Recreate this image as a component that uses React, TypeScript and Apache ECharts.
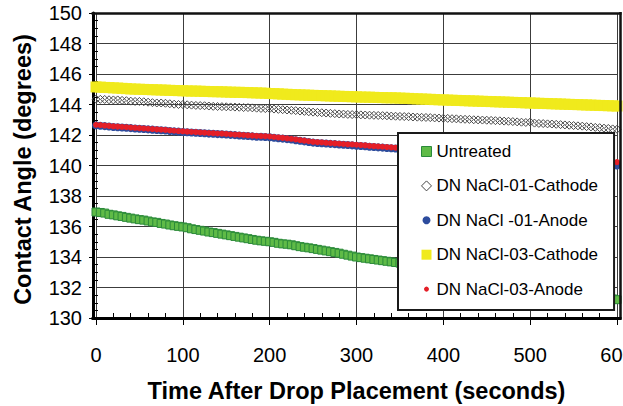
import { useEffect, useRef } from "react";
import * as echarts from "echarts";

// Time after drop placement (seconds)
const TIME = [
  0, 5, 10, 15, 20, 25, 30, 35, 40, 45, 50, 55, 60, 65, 70, 75, 80, 85, 90, 95,
  100, 105, 110, 115, 120, 125, 130, 135, 140, 145, 150, 155, 160, 165, 170, 175, 180, 185, 190, 195,
  200, 205, 210, 215, 220, 225, 230, 235, 240, 245, 250, 255, 260, 265, 270, 275, 280, 285, 290, 295,
  300, 305, 310, 315, 320, 325, 330, 335, 340, 345, 350, 355, 360, 365, 370, 375, 380, 385, 390, 395,
  400, 405, 410, 415, 420, 425, 430, 435, 440, 445, 450, 455, 460, 465, 470, 475, 480, 485, 490, 495,
  500, 505, 510, 515, 520, 525, 530, 535, 540, 545, 550, 555, 560, 565, 570, 575, 580, 585, 590, 595,
  600,
];

const UNTREATED = [
  136.95, 136.92, 136.88, 136.8, 136.76, 136.7, 136.66, 136.6, 136.55, 136.5,
  136.45, 136.42, 136.36, 136.3, 136.27, 136.2, 136.16, 136.1, 136.05, 136.01,
  135.97, 135.92, 135.85, 135.8, 135.75, 135.7, 135.64, 135.6, 135.55, 135.5,
  135.45, 135.4, 135.35, 135.3, 135.25, 135.2, 135.15, 135.1, 135.06, 135.03,
  135.0, 134.96, 134.9, 134.86, 134.84, 134.8, 134.74, 134.68, 134.64, 134.6,
  134.55, 134.5, 134.45, 134.4, 134.35, 134.3, 134.25, 134.18, 134.12, 134.06,
  134.0, 133.96, 133.92, 133.88, 133.84, 133.8, 133.76, 133.72, 133.68, 133.64,
  133.6, 133.55, 133.5, 133.45, 133.4, 133.35, 133.3, 133.25, 133.2, 133.15,
  133.1, 133.05, 133.0, 132.95, 132.9, 132.85, 132.8, 132.75, 132.7, 132.65,
  132.6, 132.55, 132.5, 132.45, 132.4, 132.35, 132.3, 132.25, 132.2, 132.15,
  132.1, 132.06, 132.02, 131.98, 131.94, 131.9, 131.86, 131.82, 131.78, 131.74,
  131.7, 131.65, 131.6, 131.55, 131.5, 131.45, 131.4, 131.35, 131.3, 131.25,
  131.2,
];

const NACL01_CATHODE = [
  144.35, 144.34, 144.33, 144.31, 144.3, 144.3, 144.27, 144.25, 144.22, 144.2,
  144.2, 144.18, 144.15, 144.12, 144.1, 144.1, 144.08, 144.05, 144.02, 144.0,
  144.0, 143.98, 143.96, 143.94, 143.93, 143.92, 143.9, 143.88, 143.87, 143.86,
  143.85, 143.84, 143.83, 143.82, 143.8, 143.8, 143.78, 143.76, 143.74, 143.73,
  143.72, 143.7, 143.68, 143.66, 143.64, 143.62, 143.6, 143.57, 143.55, 143.52,
  143.5, 143.48, 143.46, 143.44, 143.42, 143.4, 143.38, 143.37, 143.35, 143.34,
  143.33, 143.32, 143.31, 143.3, 143.29, 143.28, 143.27, 143.26, 143.24, 143.23,
  143.22, 143.21, 143.2, 143.18, 143.17, 143.16, 143.15, 143.14, 143.12, 143.11,
  143.1, 143.09, 143.07, 143.06, 143.04, 143.03, 143.02, 143.0, 142.99, 142.98,
  142.97, 142.96, 142.94, 142.93, 142.91, 142.9, 142.88, 142.86, 142.84, 142.82,
  142.85, 142.78, 142.76, 142.75, 142.73, 142.72, 142.7, 142.68, 142.66, 142.64,
  142.62, 142.6, 142.58, 142.55, 142.53, 142.5, 142.48, 142.45, 142.43, 142.4,
  142.38,
];

const NACL01_ANODE = [
  142.63, 142.61, 142.58, 142.56, 142.53, 142.51, 142.49, 142.47, 142.45, 142.43,
  142.41, 142.39, 142.37, 142.35, 142.33, 142.31, 142.29, 142.26, 142.24, 142.22,
  142.2, 142.18, 142.16, 142.15, 142.13, 142.11, 142.09, 142.08, 142.06, 142.05,
  142.03, 142.01, 141.99, 141.97, 141.95, 141.93, 141.91, 141.89, 141.88, 141.87,
  141.85, 141.82, 141.79, 141.76, 141.73, 141.7, 141.66, 141.62, 141.58, 141.54,
  141.5, 141.48, 141.46, 141.44, 141.42, 141.4, 141.38, 141.36, 141.34, 141.32,
  141.3, 141.28, 141.26, 141.23, 141.21, 141.19, 141.17, 141.15, 141.13, 141.11,
  141.09, 141.07, 141.05, 141.02, 141.0, 140.98, 140.96, 140.94, 140.92, 140.9,
  140.88, 140.86, 140.84, 140.82, 140.8, 140.78, 140.76, 140.74, 140.72, 140.7,
  140.68, 140.66, 140.64, 140.62, 140.6, 140.58, 140.56, 140.54, 140.52, 140.5,
  140.48, 140.46, 140.44, 140.42, 140.4, 140.38, 140.36, 140.34, 140.32, 140.3,
  140.28, 140.26, 140.24, 140.22, 140.2, 140.18, 140.15, 140.12, 140.09, 140.05,
  140.0,
];

const NACL03_CATHODE = [
  145.15, 145.14, 145.12, 145.11, 145.09, 145.08, 145.06, 145.04, 145.02, 145.01,
  145.0, 144.99, 144.98, 144.97, 144.96, 144.95, 144.94, 144.93, 144.92, 144.91,
  144.9, 144.89, 144.88, 144.88, 144.87, 144.86, 144.85, 144.84, 144.84, 144.83,
  144.82, 144.81, 144.8, 144.8, 144.79, 144.78, 144.77, 144.76, 144.75, 144.74,
  144.72, 144.71, 144.7, 144.68, 144.67, 144.65, 144.64, 144.63, 144.62, 144.61,
  144.6, 144.59, 144.58, 144.57, 144.56, 144.55, 144.54, 144.53, 144.52, 144.51,
  144.5, 144.49, 144.48, 144.48, 144.47, 144.46, 144.45, 144.44, 144.44, 144.43,
  144.42, 144.41, 144.4, 144.38, 144.37, 144.36, 144.35, 144.34, 144.32, 144.31,
  144.3, 144.29, 144.28, 144.27, 144.26, 144.25, 144.24, 144.23, 144.22, 144.21,
  144.2, 144.19, 144.18, 144.17, 144.16, 144.15, 144.14, 144.13, 144.12, 144.11,
  144.1, 144.09, 144.08, 144.07, 144.06, 144.05, 144.04, 144.03, 144.02, 144.01,
  144.0, 143.99, 143.98, 143.97, 143.96, 143.95, 143.94, 143.93, 143.92, 143.91,
  143.9,
];

const NACL03_ANODE = [
  142.67, 142.65, 142.62, 142.6, 142.57, 142.55, 142.53, 142.51, 142.49, 142.47,
  142.45, 142.43, 142.41, 142.39, 142.37, 142.35, 142.33, 142.3, 142.28, 142.26,
  142.24, 142.22, 142.2, 142.19, 142.17, 142.15, 142.13, 142.12, 142.1, 142.09,
  142.07, 142.05, 142.03, 142.02, 142.0, 141.98, 141.96, 141.94, 141.93, 141.92,
  141.9, 141.87, 141.84, 141.81, 141.78, 141.75, 141.71, 141.67, 141.63, 141.59,
  141.55, 141.53, 141.51, 141.49, 141.47, 141.45, 141.43, 141.41, 141.39, 141.38,
  141.36, 141.34, 141.32, 141.29, 141.27, 141.25, 141.23, 141.21, 141.19, 141.17,
  141.15, 141.13, 141.11, 141.09, 141.07, 141.05, 141.03, 141.01, 140.99, 140.97,
  140.95, 140.93, 140.92, 140.9, 140.89, 140.87, 140.85, 140.83, 140.82, 140.8,
  140.78, 140.76, 140.75, 140.73, 140.72, 140.7, 140.68, 140.66, 140.64, 140.62,
  140.6, 140.58, 140.56, 140.54, 140.52, 140.5, 140.48, 140.47, 140.45, 140.44,
  140.42, 140.4, 140.38, 140.36, 140.34, 140.32, 140.3, 140.28, 140.26, 140.24,
  140.22,
];

const NAMES = [
  "Untreated",
  "DN NaCl-01-Cathode",
  "DN NaCl -01-Anode",
  "DN NaCl-03-Cathode",
  "DN NaCl-03-Anode",
];

const X_TITLE = "Time After Drop Placement (seconds)";
const Y_TITLE = "Contact Angle (degrees)";

const FONT = "'Liberation Sans', Arial, Helvetica, sans-serif";

function pairs(ys: number[]) {
  return TIME.map((t, i) => [t, ys[i]]);
}

export default function App() {
  const ref = useRef<HTMLDivElement>(null);

  useEffect(() => {
    if (!ref.current) return;
    const chart = echarts.init(ref.current, null, { renderer: "svg" });
    const gridColor = "#3c3c3c";
    chart.setOption({
      animation: false,
      backgroundColor: "#ffffff",
      textStyle: { fontFamily: FONT },
      grid: {
        left: 96,
        right: 6,
        top: 13,
        bottom: 88,
        containLabel: false,
        outerBoundsMode: "none",
      },
      xAxis: {
        type: "value",
        min: 0,
        max: 600,
        interval: 100,
        name: X_TITLE,
        nameLocation: "middle",
        nameGap: 61,
        nameTextStyle: { fontFamily: FONT, fontSize: 23.5, fontWeight: "bold", color: "#000" },
        axisLine: { show: true, onZero: false, lineStyle: { color: "#000", width: 3 } },
        axisTick: { show: true, inside: false, length: 7, lineStyle: { color: "#000", width: 1 } },
        minorTick: { show: true, splitNumber: 5, length: -5, lineStyle: { color: "#000", width: 1 } },
        axisLabel: { margin: 27, fontSize: 20, color: "#000", fontFamily: FONT },
        splitLine: { show: true, lineStyle: { color: gridColor, width: 1 } },
      },
      yAxis: {
        type: "value",
        min: 130,
        max: 150,
        interval: 2,
        offset: 3,
        name: Y_TITLE,
        nameLocation: "middle",
        nameGap: 58,
        nameTextStyle: {
          fontFamily: FONT,
          fontSize: 23.5,
          fontWeight: "bold",
          color: "#000",
          padding: [0, 8, 0, 0],
        },
        axisLine: { show: true, onZero: false, lineStyle: { color: "#000", width: 3 } },
        axisTick: { show: true, inside: false, length: 4, lineStyle: { color: "#000", width: 1 } },
        minorTick: { show: true, splitNumber: 4, length: -5, lineStyle: { color: "#000", width: 1 } },
        axisLabel: { margin: 11, fontSize: 20, color: "#000", fontFamily: FONT },
        splitLine: { show: true, lineStyle: { color: gridColor, width: 1 } },
      },
      legend: {
        orient: "vertical",
        left: 398,
        top: 133,
        padding: [10, 16, 12.5, 21],
        itemGap: 17.4,
        itemWidth: 10,
        itemHeight: 10,
        backgroundColor: "#ffffff",
        borderColor: "#1a1a1a",
        borderWidth: 2,
        borderRadius: 0,
        selectedMode: false,
        textStyle: { fontFamily: FONT, fontSize: 17, color: "#000" },
        data: [
          { name: NAMES[0], icon: "rect", itemStyle: { color: "#5fbb47", borderColor: "#2b8a3a", borderWidth: 1 } },
          { name: NAMES[1], icon: "diamond", itemStyle: { color: "#ffffff", borderColor: "#444444", borderWidth: 1 } },
          { name: NAMES[2], icon: "circle", itemStyle: { color: "#2d4c9d", borderColor: "#ffffff", borderWidth: 2 } },
          { name: NAMES[3], icon: "rect", itemStyle: { color: "#f0ea1c", borderWidth: 0 } },
          { name: NAMES[4], icon: "circle", itemStyle: { color: "#e41f28", borderColor: "#ffffff", borderWidth: 5 } },
        ],
      },
      graphic: [
        { type: "line", z: 50, shape: { x1: 91.5, y1: 13.5, x2: 621.5, y2: 13.5 }, style: { stroke: "#111", lineWidth: 2.5 } },
        { type: "line", z: 50, shape: { x1: 620.5, y1: 12, x2: 620.5, y2: 319.5 }, style: { stroke: "#111", lineWidth: 2.5 } },
        { type: "line", z: 50, shape: { x1: 91.5, y1: 318.5, x2: 621.5, y2: 318.5 }, style: { stroke: "#000", lineWidth: 3 } },
      ],
      series: [
        {
          name: NAMES[0],
          type: "scatter",
          symbol: "rect",
          symbolSize: 8,
          data: pairs(UNTREATED),
          itemStyle: { color: "#5fbb47", borderColor: "#2b8a3a", borderWidth: 1, opacity: 1 },
          emphasis: { disabled: true },
        },
        {
          name: NAMES[1],
          type: "scatter",
          symbol: "diamond",
          symbolSize: 8,
          data: pairs(NACL01_CATHODE),
          itemStyle: { color: "rgba(255,255,255,0)", borderColor: "#4a4a4a", borderWidth: 1, opacity: 1 },
          emphasis: { disabled: true },
        },
        {
          name: NAMES[2],
          type: "scatter",
          symbol: "circle",
          symbolSize: 8,
          data: pairs(NACL01_ANODE),
          itemStyle: { color: "#2d4c9d", opacity: 1 },
          emphasis: { disabled: true },
        },
        {
          name: NAMES[3],
          type: "scatter",
          symbol: "rect",
          symbolSize: 11,
          data: pairs(NACL03_CATHODE),
          itemStyle: { color: "#f0ea1c", opacity: 1 },
          emphasis: { disabled: true },
        },
        {
          name: NAMES[4],
          type: "scatter",
          symbol: "circle",
          symbolSize: 6,
          data: pairs(NACL03_ANODE),
          itemStyle: { color: "#e41f28", opacity: 1 },
          emphasis: { disabled: true },
        },
      ],
    });
    return () => chart.dispose();
  }, []);

  return (
    <div
      ref={ref}
      style={{ position: "fixed", left: 0, top: 0, width: 623, height: 406, background: "#fff" }}
    />
  );
}
